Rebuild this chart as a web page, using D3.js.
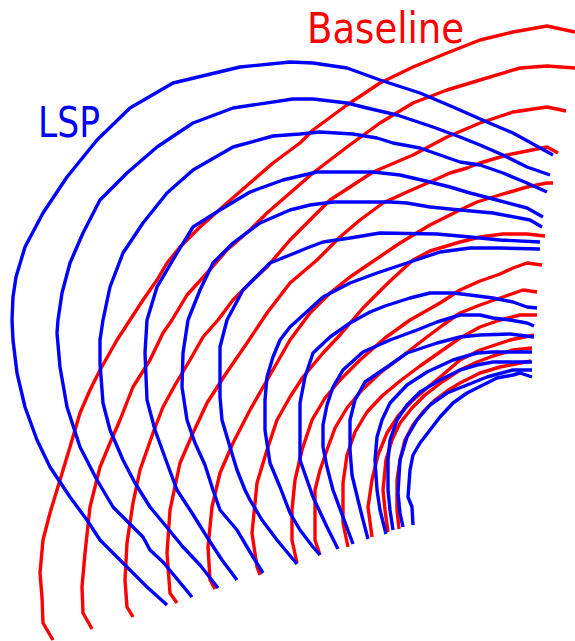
<!DOCTYPE html>
<html>
<head>
<meta charset="utf-8">
<script src="https://cdn.jsdelivr.net/npm/d3@7"></script>
<style>
  html, body { margin: 0; padding: 0; background: #fff; }
  svg { display: block; }
</style>
</head>
<body>
<div class="fronts"></div>
<script>
// Baseline fronts (red), outermost first. Points are [x, y] in plot units.
const baseline1 = [[53,640],[43,623],[42,597],[40,573],[43,540],[50,513],[60,480],[70,447],[80,413],[90,390],[100,370],[117,340],[130,320],[143,300],[157,280],[167,263],[180,247],[200,227],[227,203],[250,183],[273,163],[300,143],[313,130],[347,105],[380,83],[413,67],[447,53],[480,40],[513,32],[547,26],[575,32]];
const baseline2 = [[92,629],[83,613],[82,587],[85,553],[90,507],[100,467],[110,443],[120,420],[133,387],[150,360],[163,333],[172,320],[187,295],[207,273],[227,250],[250,230],[267,213],[290,193],[313,173],[347,147],[380,123],[413,103],[447,90],[480,80],[520,68],[547,66],[575,68]];
const baseline3 = [[133,617],[127,607],[125,580],[127,543],[133,503],[140,470],[153,433],[163,407],[175,385],[190,360],[203,337],[218,320],[233,300],[253,280],[267,267],[290,240],[310,220],[330,200],[350,187],[373,172],[413,155],[447,137],[480,123],[513,112],[547,107],[566,111]];
const baseline4 = [[177,603],[170,593],[167,553],[170,510],[180,463],[193,433],[207,403],[225,375],[247,343],[267,313],[290,283],[317,260],[340,237],[360,220],[383,203],[407,192],[430,182],[450,173],[467,168],[480,163],[507,155],[527,151],[547,147],[558,153]];
const baseline5 = [[215,589],[210,580],[208,547],[212,507],[220,473],[233,443],[250,410],[270,375],[290,340],[310,313],[330,293],[350,277],[375,260],[400,243],[430,225],[460,210],[477,202],[493,197],[510,192],[527,187],[547,183],[553,183]];
const baseline6 = [[260,575],[257,567],[252,533],[257,483],[267,450],[277,420],[290,397],[303,377],[323,353],[340,335],[363,308],[388,283],[413,260],[430,251],[460,242],[480,237],[503,234],[527,234],[545,236]];
const baseline7 = [[297,563],[292,540],[292,510],[295,480],[302,450],[312,420],[325,398],[340,380],[360,360],[385,338],[410,320],[440,303],[460,290],[480,281],[500,274],[513,268],[527,263],[542,265]];
const baseline8 = [[320,555],[315,540],[315,490],[320,470],[327,450],[335,428],[347,408],[362,390],[380,373],[400,358],[423,340],[443,325],[460,313],[480,305],[503,297],[523,290],[537,292]];
const baseline9 = [[348,547],[343,523],[343,483],[347,455],[355,432],[367,412],[382,396],[400,381],[420,366],[440,352],[460,338],[480,327],[500,320],[520,315],[537,315]];
const baseline10 = [[372,537],[368,507],[372,480],[378,455],[387,433],[398,416],[412,401],[428,387],[445,373],[460,360],[480,350],[510,340],[534,335]];
const baseline11 = [[388,532],[385,510],[383,490],[386,460],[392,440],[400,423],[412,408],[425,395],[442,382],[460,370],[477,362],[493,356],[513,350],[532,348]];
const baseline12 = [[399,529],[397,510],[397,480],[400,460],[405,440],[413,425],[423,412],[435,400],[447,391],[460,383],[480,373],[500,367],[520,363],[531,361]];

// LSP fronts (blue), outermost first.
const lsp1 = [[167,605],[147,587],[127,567],[100,540],[87,520],[70,497],[50,467],[37,440],[25,407],[17,373],[13,340],[12,320],[13,297],[16,277],[25,247],[43,213],[67,177],[97,140],[130,108],[173,83],[240,67],[290,62],[313,63],[347,68],[380,80],[420,93],[453,107],[487,122],[513,133],[553,155]];
const lsp2 = [[192,597],[163,562],[150,550],[143,537],[113,507],[97,480],[80,447],[67,407],[60,367],[57,333],[58,320],[62,293],[70,263],[83,233],[100,200],[127,173],[157,147],[193,123],[233,108],[293,99],[313,99],[347,103],[367,108],[397,115],[433,127],[460,137],[480,145],[503,155],[527,167],[550,175]];
const lsp3 = [[218,588],[200,565],[183,547],[165,525],[150,507],[135,483],[123,460],[110,430],[103,403],[100,363],[100,340],[103,320],[110,287],[123,253],[143,223],[167,193],[193,170],[233,147],[273,136],[300,134],[320,132],[353,134],[377,138],[393,143],[420,148],[460,162],[480,165],[503,173],[527,183],[547,192]];
const lsp4 = [[237,580],[222,560],[207,537],[192,513],[177,490],[167,463],[155,430],[147,400],[145,353],[147,320],[157,287],[177,253],[193,227],[220,210],[250,192],[283,180],[317,172],[373,172],[400,175],[430,182],[450,187],[470,193],[493,199],[527,208],[543,217]];
const lsp5 = [[263,573],[250,552],[237,530],[220,510],[213,490],[205,465],[195,443],[187,420],[182,387],[183,353],[188,320],[200,290],[213,263],[233,243],[260,223],[290,210],[310,205],[333,202],[390,202],[407,203],[430,207],[460,210],[493,213],[530,220],[542,227]];
const lsp6 = [[297,564],[277,540],[262,520],[250,500],[245,490],[237,470],[230,447],[222,420],[220,397],[220,347],[227,320],[243,290],[270,263],[290,255],[307,248],[323,242],[350,238],[380,233],[437,234],[470,237],[500,240],[540,242]];
const lsp7 = [[320,555],[313,547],[300,530],[290,513],[280,487],[270,463],[265,430],[265,400],[267,377],[273,357],[280,340],[290,327],[300,318],[323,297],[350,283],[377,273],[407,263],[440,252],[470,248],[500,248],[540,249]];
const lsp8 = [[338,549],[327,527],[313,497],[300,460],[300,403],[305,377],[313,353],[330,337],[350,323],[370,312],[385,306],[410,298],[430,293],[453,293],[470,295],[493,298],[513,302],[527,307],[537,308]];
const lsp9 = [[353,544],[343,517],[333,490],[327,467],[323,447],[323,425],[327,405],[333,387],[343,370],[363,352],[390,340],[417,330],[437,322],[460,315],[480,315],[493,318],[510,320],[527,323],[534,326]];
const lsp10 = [[368,539],[363,520],[358,500],[352,475],[350,450],[350,420],[355,400],[365,382],[387,367],[407,353],[437,343],[460,337],[480,335],[510,334],[534,337]];
const lsp11 = [[386,534],[380,510],[377,490],[375,460],[377,437],[382,420],[390,403],[407,385],[427,372],[453,360],[477,353],[493,352],[532,352]];
const lsp12 = [[393,530],[390,510],[388,490],[388,460],[390,440],[397,420],[407,405],[420,392],[440,380],[460,370],[477,365],[493,362],[532,362]];
const lsp13 = [[403,527],[400,513],[398,493],[400,460],[407,437],[417,420],[430,405],[447,393],[467,385],[487,377],[513,370],[532,370]];
const lsp14 = [[413,525],[412,507],[408,497],[410,470],[413,455],[420,443],[430,430],[440,417],[453,403],[467,393],[487,383],[497,378],[513,375],[520,373],[532,377]];

const baselineCurves = [baseline1, baseline2, baseline3, baseline4, baseline5, baseline6,
  baseline7, baseline8, baseline9, baseline10, baseline11, baseline12];
const lspCurves = [lsp1, lsp2, lsp3, lsp4, lsp5, lsp6, lsp7,
  lsp8, lsp9, lsp10, lsp11, lsp12, lsp13, lsp14];

const labels = ["Baseline", "LSP"];

const width = 575;
const height = 641;

const xScale = d3.scaleLinear().domain([0, 575]).range([0, width]);
const yScale = d3.scaleLinear().domain([0, 641]).range([0, height]);

const svg = d3
  .select(".fronts")
  .append("svg")
  .attr("width", width)
  .attr("height", height);

const line = d3
  .line()
  .x((d) => xScale(d[0]))
  .y((d) => yScale(d[1]));

// red first, blue drawn over it
svg
  .selectAll(".baseline")
  .data(baselineCurves)
  .enter()
  .append("path")
  .attr("class", "baseline")
  .attr("d", line)
  .attr("fill", "none")
  .attr("stroke", "#ff0000")
  .attr("stroke-width", 3.4)
  .attr("stroke-linejoin", "round");

svg
  .selectAll(".lsp")
  .data(lspCurves)
  .enter()
  .append("path")
  .attr("class", "lsp")
  .attr("d", line)
  .attr("fill", "none")
  .attr("stroke", "#0000ff")
  .attr("stroke-width", 3.4)
  .attr("stroke-linejoin", "round");

svg
  .append("text")
  .attr("x", 307)
  .attr("y", 43)
  .attr("textLength", 157)
  .attr("lengthAdjust", "spacingAndGlyphs")
  .attr("fill", "#ff0000")
  .style("font-family", "'DejaVu Sans', sans-serif")
  .style("font-size", "42px")
  .text(labels[0]);

svg
  .append("text")
  .attr("x", 38)
  .attr("y", 137)
  .attr("textLength", 62)
  .attr("lengthAdjust", "spacingAndGlyphs")
  .attr("fill", "#0000ff")
  .style("font-family", "'DejaVu Sans', sans-serif")
  .style("font-size", "42px")
  .text(labels[1]);
</script>
</body>
</html>
